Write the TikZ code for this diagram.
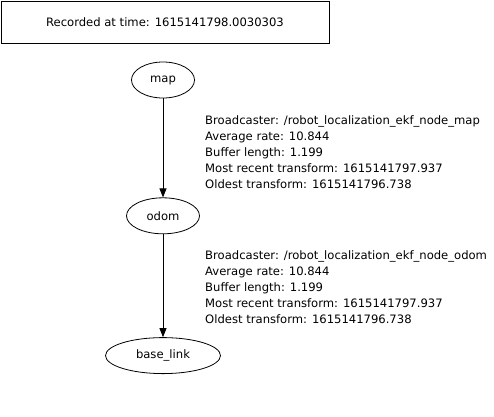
\documentclass[tikz,border=0pt]{standalone}
\usepackage{fontspec}
\setmainfont{DejaVu Sans}
\usetikzlibrary{arrows.meta,positioning,shapes.geometric}

\begin{document}
\begin{tikzpicture}[
    x=1pt, y=-1pt,
    font=\fontsize{11.6}{16}\selectfont,
    framenode/.style={rectangle, draw=black, line width=0.8pt, minimum width=328pt, minimum height=42pt, inner sep=0pt},
    tfnode/.style={ellipse, draw=black, line width=0.8pt, minimum height=36pt, inner sep=0pt},
    infolabel/.style={anchor=west, align=left, inner sep=0pt},
    tfedge/.style={-{Triangle[length=9pt,width=7pt]}, line width=0.8pt},
    ]
    \useasboundingbox (0,0) rectangle (494,416);

    %Nodes
    \node[framenode]                  (stamp) at (165,22)  {Recorded at time: 1615141798.0030303};
    \node[tfnode, minimum width=63pt]  (map)   at (163,80)  {map};
    \node[tfnode, minimum width=73pt]  (odom)  [below=99pt of map]  {odom};
    \node[tfnode, minimum width=115pt] (base)  [below=103pt of odom] {base\_link};

    % Text labels (beside edges)
    \node[infolabel] (info1) at (205,152) {Broadcaster: /robot\_localization\_ekf\_node\_map\\
        Average rate: 10.844\\
        Buffer length: 1.199\\
        Most recent transform: 1615141797.937\\
        Oldest transform: 1615141796.738};
    \node[infolabel] (info2) at (205,287) {Broadcaster: /robot\_localization\_ekf\_node\_odom\\
        Average rate: 10.844\\
        Buffer length: 1.199\\
        Most recent transform: 1615141797.937\\
        Oldest transform: 1615141796.738};

    %Lines
    \draw[tfedge] (map.south)  -- (odom.north);
    \draw[tfedge] (odom.south) -- (base.north);
\end{tikzpicture}
\end{document}
